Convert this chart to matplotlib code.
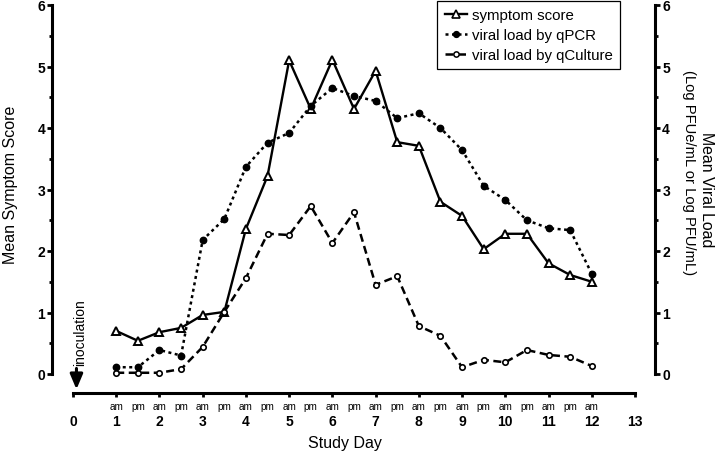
import matplotlib
matplotlib.use("Agg")
import matplotlib.pyplot as plt
from matplotlib.lines import Line2D
import numpy as np

plt.rcParams['font.family'] = ['Liberation Sans', 'DejaVu Sans']

# ---- data ----
days = [1, 1.5, 2, 2.5, 3, 3.5, 4, 4.5, 5, 5.5, 6, 6.5, 7, 7.5, 8, 8.5, 9, 9.5,
        10, 10.5, 11, 11.5, 12]
symptom_score = [0.70, 0.54, 0.68, 0.75, 0.96, 1.01, 2.36, 3.22, 5.10, 4.31,
                 5.11, 4.31, 4.93, 3.77, 3.71, 2.80, 2.57, 2.03, 2.28, 2.28,
                 1.80, 1.61, 1.50]
viral_qpcr = [0.11, 0.11, 0.39, 0.30, 2.18, 2.52, 3.37, 3.76, 3.92, 4.36,
              4.65, 4.52, 4.44, 4.16, 4.24, 4.00, 3.64, 3.06, 2.83, 2.50,
              2.37, 2.34, 1.63]
viral_culture = [0.02, 0.02, 0.02, 0.08, 0.44, 1.01, 1.56, 2.28, 2.26, 2.73,
                 2.13, 2.63, 1.45, 1.59, 0.78, 0.62, 0.11, 0.23, 0.19, 0.39,
                 0.31, 0.28, 0.13]
x_ticks = list(range(0, 14))
y_ticks = [0, 1, 2, 3, 4, 5, 6]
ampm_labels = ['am' if float(d).is_integer() else 'pm' for d in days]

# ---- figure ----
fig = plt.figure(figsize=(7.16, 4.56), dpi=100)
ax = fig.add_axes([73/716, 81/456, (635-73)/716, (375-6)/456])
ax2 = ax.twinx()

for a in (ax, ax2):
    a.set_xlim(0, 13)
    a.set_ylim(0, 6)
    a.patch.set_visible(False)
    for s in a.spines.values():
        s.set_visible(False)

ax.spines['left'].set_visible(True)
ax.spines['left'].set_position(('outward', 15))
ax.spines['left'].set_bounds(0, 6)
ax.spines['left'].set_linewidth(2.2)
ax.spines['bottom'].set_visible(True)
ax.spines['bottom'].set_position(('outward', 13.5))
ax.spines['bottom'].set_bounds(0, 13)
ax.spines['bottom'].set_linewidth(2.2)
ax2.spines['right'].set_visible(True)
ax2.spines['right'].set_position(('outward', 14.5))
ax2.spines['right'].set_bounds(0, 6)
ax2.spines['right'].set_linewidth(2.2)

ax.set_yticks(y_ticks)
ax.set_yticks(np.arange(0.5, 6, 1.0), minor=True)
ax2.set_yticks(y_ticks)
ax2.set_yticks(np.arange(0.5, 6, 1.0), minor=True)
ax.set_xticks(x_ticks)

tick_font = dict(fontsize=10, fontweight='bold')
ax.set_yticklabels([str(t) for t in y_ticks], **tick_font)
ax2.set_yticklabels([str(t) for t in y_ticks], **tick_font)
ax.set_xticklabels([str(t) for t in x_ticks], **tick_font)

ax.tick_params(axis='y', which='major', direction='out', length=3.6, width=2, pad=1.5)
ax.tick_params(axis='y', which='minor', direction='out', length=2.5, width=2)
ax2.tick_params(axis='y', which='major', direction='out', length=3.6, width=2, pad=1.5)
ax2.tick_params(axis='y', which='minor', direction='out', length=2.5, width=2)
ax.tick_params(axis='x', which='major', direction='out', length=3, width=2, pad=12.5)

# am / pm labels
for xp, lb in zip(days, ampm_labels):
    ax.annotate(lb, xy=(xp, 0), xycoords=('data', 'axes fraction'),
                xytext=(0, -23), textcoords='offset points',
                ha='center', va='center', fontsize=7.2)

# ---- series ----
ax.plot(days, symptom_score, color='black', lw=1.7, linestyle='-',
        marker='^', markersize=6.2, markerfacecolor='white',
        markeredgecolor='black', markeredgewidth=1.4, clip_on=False, zorder=5)
ax2.plot(days, viral_qpcr, color='black', lw=1.8, linestyle=(0, (1.2, 1.4)),
         marker='o', markersize=4.6, markerfacecolor='black',
         markeredgecolor='black', clip_on=False, zorder=4)
ax2.plot(days, viral_culture, color='black', lw=1.8, linestyle=(0, (3.2, 1.8)),
         marker='o', markersize=3.9, markerfacecolor='white',
         markeredgecolor='black', markeredgewidth=1.2, clip_on=False, zorder=3)

# ---- labels ----
ax.set_ylabel('Mean Symptom Score', fontsize=11.5)
ax.yaxis.set_label_coords(-0.098, 0.515)
ax.set_xlabel('Study Day', fontsize=11.5)
ax.xaxis.set_label_coords(0.483, -0.165)

fig.text(706/716, 1 - 190/456, 'Mean Viral Load', rotation=270,
         ha='center', va='center', fontsize=11.4)
fig.text(689/716, 1 - 173/456, '(Log PFUe/mL or Log PFU/mL)', rotation=270,
         ha='center', va='center', fontsize=10.6)

# inoculation annotation
ax.annotate('', xy=(0.08, -0.25), xytext=(0.08, 0.09),
            xycoords='data', textcoords='data',
            arrowprops=dict(arrowstyle='-|>,head_length=0.9,head_width=0.38',
                            color='black', lw=2.2, shrinkA=0, shrinkB=0),
            annotation_clip=False)
ax.text(0.16, 0.14, 'inoculation', rotation=90, ha='center', va='bottom',
        fontsize=10)

# ---- legend ----
handles = [
    Line2D([], [], color='black', lw=1.7, marker='^', markersize=5.5,
           markerfacecolor='white', markeredgecolor='black', markeredgewidth=1.2),
    Line2D([], [], color='black', lw=1.8, linestyle=(0, (1.2, 1.4)), marker='o',
           markersize=4.2, markerfacecolor='black'),
    Line2D([], [], color='black', lw=1.8, linestyle=(0, (3.2, 1.8)), marker='o',
           markersize=3.8, markerfacecolor='white', markeredgewidth=1.1),
]
leg = ax.legend(handles, ['symptom score', 'viral load by qPCR', 'viral load by qCulture'],
                loc='upper right', bbox_to_anchor=((620-73)/562, (375-2)/369),
                fontsize=10.8, frameon=True, fancybox=False, framealpha=1,
                edgecolor='black', handlelength=1.5, handletextpad=0.3,
                borderpad=0.5, labelspacing=0.38, borderaxespad=0)
leg.get_frame().set_linewidth(0.9)
leg.set_zorder(10)

fig.savefig('out.png', dpi=100)
